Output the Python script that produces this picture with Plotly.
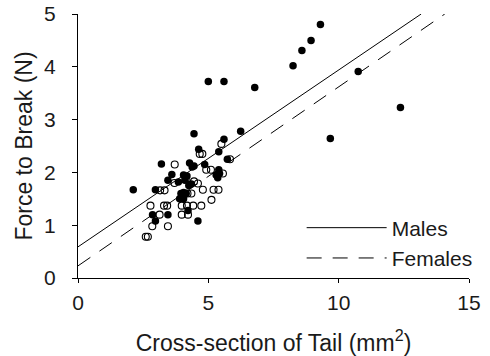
import plotly.graph_objects as go

# Males (filled circles)
male_x = [2.12, 2.86, 2.97, 2.97, 3.20, 3.45, 3.45, 3.60, 3.85, 3.95, 4.05, 4.15, 3.90, 4.05,
          4.05, 4.18, 4.10, 4.22, 4.28, 4.38, 4.45, 4.45, 4.25, 4.35, 4.60, 4.63, 4.86, 5.00,
          5.30, 5.36, 5.40, 5.43, 5.40, 5.60, 5.60, 5.73, 6.24, 6.78, 8.25, 8.59, 8.94, 9.30,
          9.68, 10.75, 12.37]
male_y = [1.67, 1.20, 1.08, 1.67, 2.16, 1.20, 1.85, 1.96, 1.82, 1.60, 1.62, 1.60, 1.50, 1.50,
          1.95, 1.93, 1.85, 1.28, 2.18, 2.10, 2.12, 2.73, 1.75, 1.78, 1.08, 2.44, 2.15, 3.72,
          1.95, 1.90, 2.05, 1.98, 2.39, 2.63, 3.72, 2.25, 2.78, 3.61, 4.02, 4.31, 4.50, 4.80,
          2.64, 3.91, 3.23]

# Females (open circles)
female_x = [2.60, 2.68, 2.85, 3.45, 2.78, 3.13, 3.30, 3.42, 3.15, 3.32, 3.71, 3.70, 3.98, 4.18,
            4.42, 3.98, 4.22, 4.13, 4.45, 4.20, 4.35, 4.60, 4.67, 4.77, 4.73, 4.79, 4.92, 5.10,
            5.12, 5.20, 5.39, 5.50, 5.56, 5.83]
female_y = [0.78, 0.78, 0.98, 0.98, 1.37, 1.20, 1.37, 1.37, 1.66, 1.66, 2.15, 1.80, 1.37, 1.37,
            1.37, 1.20, 1.20, 1.87, 1.83, 1.60, 1.60, 1.79, 2.35, 2.35, 1.37, 1.67, 2.05, 2.05,
            1.48, 1.67, 1.67, 2.54, 1.98, 2.25]

# Regression lines: intercept, slope
line_names = ["Males", "Females"]
intercepts = [0.59, 0.23]
slopes = [0.335, 0.339]
dashes = ["solid", "15px,11px"]

y_max = 5
x_ticks = [0, 5, 10, 15]
y_ticks = [0, 1, 2, 3, 4, 5]

FONT = "Liberation Sans, Arial, sans-serif"
TXT = "#1a1a1a"

fig = go.Figure()

for name, b0, b1, d in zip(line_names, intercepts, slopes, dashes):
    x_end = (y_max - b0) / b1
    fig.add_trace(go.Scatter(
        x=[0, x_end], y=[b0, b0 + b1 * x_end], mode="lines", name=name,
        line=dict(color="black", width=1, dash=d), showlegend=True))

fig.add_trace(go.Scatter(
    x=male_x, y=male_y, mode="markers", showlegend=False,
    marker=dict(symbol="circle", size=7.5, color="black", line=dict(width=0))))
fig.add_trace(go.Scatter(
    x=female_x, y=female_y, mode="markers", showlegend=False,
    marker=dict(symbol="circle-open", size=7, color="black", line=dict(width=1.1))))

fig.update_layout(
    width=490, height=356,
    margin=dict(l=78, r=21, t=14, b=78),
    paper_bgcolor="white", plot_bgcolor="white",
    font=dict(family=FONT, size=21, color=TXT),
    legend=dict(x=0.572, y=0.267, xanchor="left", yanchor="top",
                bgcolor="rgba(0,0,0,0)", font=dict(size=21, color=TXT),
                itemwidth=80, tracegroupgap=0),
)
fig.update_xaxes(
    range=[0, 15], tickvals=x_ticks, showgrid=False, zeroline=False, automargin=False,
    showline=True, linecolor="black", linewidth=1,
    ticks="outside", ticklen=4, tickcolor="black", tickwidth=1,
    tickfont=dict(size=21, color=TXT), ticklabelstandoff=2,
    title=dict(text="Cross-section of Tail (mm<sup>2</sup>)", font=dict(size=23, color=TXT), standoff=25))
fig.update_yaxes(
    range=[0, 5], tickvals=y_ticks, showgrid=False, zeroline=False, automargin=False,
    showline=True, linecolor="black", linewidth=1,
    ticks="outside", ticklen=5, tickcolor="black", tickwidth=1,
    tickfont=dict(size=21, color=TXT), ticklabelstandoff=12,
    title=dict(text="Force to Break (N)", font=dict(size=23, color=TXT), standoff=5))

# remove the default 8px page margin so the figure sits at the window's corner
fig.write_html("out.html", config={"displayModeBar": False},
               post_script="document.body.style.margin='0';")
